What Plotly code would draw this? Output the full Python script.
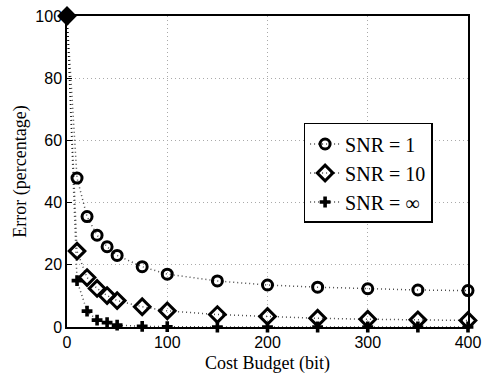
import plotly.graph_objects as go

budget = [0, 10, 20, 30, 40, 50, 75, 100, 150, 200, 250, 300, 350, 400]
snr1 = [100, 47.9, 35.5, 29.5, 25.8, 23.0, 19.4, 17.0, 14.8, 13.5, 12.8, 12.3, 11.9, 11.7]
snr10 = [100, 24.4, 15.9, 12.4, 10.1, 8.5, 6.5, 5.2, 4.0, 3.4, 2.8, 2.5, 2.3, 2.1]
snrinf = [100, 14.9, 5.1, 2.2, 1.4, 0.6, 0.2, 0.1, 0, 0, 0, 0, 0, 0]
names = ["SNR = 1", "SNR = 10", "SNR = ∞"]
symbols = ["circle-open", "diamond-open", "cross"]
sizes = [10, 12, 9]

fig = go.Figure()
for y, name, sym, sz in zip([snr1, snr10, snrinf], names, symbols, sizes):
    fig.add_trace(go.Scatter(
        x=budget, y=y, name=name, mode="lines+markers",
        line=dict(color="rgba(0,0,0,0.7)", width=1.5, dash="1px,3px"),
        marker=dict(symbol=sym, size=sz, color="black",
                    line=dict(color="black", width=3 if "open" in sym else 0)),
        cliponaxis=False,
    ))

# overlapping markers at the first point appear as a solid diamond
fig.add_trace(go.Scatter(
    x=[budget[0]], y=[snr10[0]], mode="markers", showlegend=False,
    marker=dict(symbol="diamond", size=12, color="black"), cliponaxis=False,
))

axis_common = dict(
    showline=True, linecolor="black", linewidth=1.5, mirror=True,
    showgrid=True, gridcolor="#aaaaaa", griddash="1px,3px", gridwidth=1,
    ticks="inside", ticklen=5, tickcolor="black", zeroline=False,
    automargin=False,
    tickfont=dict(family="Liberation Sans, Arial", size=16, color="black"),
)
fig.update_xaxes(range=[0, 400], tickvals=[0, 100, 200, 300, 400],
                 title=dict(text="Cost Budget (bit)", standoff=6,
                            font=dict(family="Liberation Serif, Times New Roman", size=18, color="black")),
                 **axis_common)
fig.update_yaxes(range=[0, 100], tickvals=[0, 20, 40, 60, 80, 100],
                 title=dict(text="Error (percentage)", standoff=4,
                            font=dict(family="Liberation Serif, Times New Roman", size=18, color="black")),
                 **axis_common)
fig.update_layout(
    width=482, height=377,
    margin=dict(l=67, r=14, t=16, b=50),
    plot_bgcolor="white", paper_bgcolor="white",
    legend=dict(x=0.59, y=0.656, xanchor="left", yanchor="top",
                bordercolor="black", borderwidth=1.5, bgcolor="white",
                font=dict(family="Liberation Serif, Times New Roman", size=20, color="black"),
                tracegroupgap=0, itemwidth=30),
    showlegend=True,
)
fig.write_html("out.html")
